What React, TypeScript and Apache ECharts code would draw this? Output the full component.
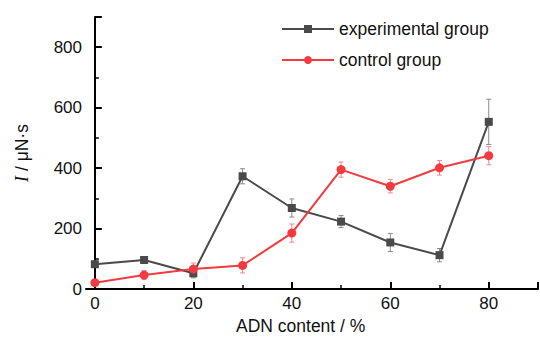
import React, { useEffect, useRef } from "react";
import * as echarts from "echarts";

const adnContent = [0, 10, 20, 30, 40, 50, 60, 70, 80];
const experimental = [82, 96, 52, 373, 268, 223, 154, 112, 553];
const experimentalErr = [10, 8, 15, 25, 30, 20, 30, 22, 75];
const control = [21, 46, 66, 78, 185, 395, 340, 401, 441];
const controlErr = [8, 15, 20, 25, 30, 25, 22, 24, 30];
const xTickLabels = [0, 20, 40, 60, 80];
const xMajorTicks = [0, 20, 40, 60, 80, 90];
const xMinorTicks = [10, 30, 50, 70];
const yTickLabels = [0, 200, 400, 600, 800];
const yMajorTicks = [0, 200, 400, 600, 800, 900];
const yMinorTicks = [100, 300, 500, 700];

const FONT = "Liberation Sans, Arial, Helvetica, sans-serif";

function errorSeries(name: string, vals: number[], errs: number[], color: string) {
  return {
    type: "custom",
    name: name + " err",
    xAxisIndex: 0,
    yAxisIndex: 0,
    z: 1,
    silent: true,
    data: adnContent.map((x, i) => [x, vals[i] - errs[i], vals[i] + errs[i]]),
    renderItem: (params: any, api: any) => {
      const lo = api.coord([api.value(0), api.value(1)]);
      const hi = api.coord([api.value(0), api.value(2)]);
      const cap = 2.5;
      const style = { stroke: color, lineWidth: 1 };
      return {
        type: "group",
        children: [
          { type: "line", shape: { x1: lo[0], y1: lo[1], x2: hi[0], y2: hi[1] }, style },
          { type: "line", shape: { x1: lo[0] - cap, y1: lo[1], x2: lo[0] + cap, y2: lo[1] }, style },
          { type: "line", shape: { x1: hi[0] - cap, y1: hi[1], x2: hi[0] + cap, y2: hi[1] }, style },
        ],
      };
    },
  };
}

export default function App() {
  const ref = useRef<HTMLDivElement>(null);
  useEffect(() => {
    if (!ref.current) return;
    const chart = echarts.init(ref.current, null, { renderer: "svg" });
    const axisLine = { show: true, lineStyle: { color: "#000", width: 2 } };
    const labelStyle = { fontFamily: FONT, fontSize: 17, color: "#111" };
    chart.setOption({
      animation: false,
      backgroundColor: "#fff",
      grid: { left: 86, right: 2, top: 17, bottom: 51, containLabel: false },
      legend: {
        left: 276,
        top: 15,
        orient: "vertical",
        itemWidth: 52,
        itemHeight: 10,
        itemGap: 13,
        data: ["experimental group", "control group"],
        textStyle: { fontFamily: FONT, fontSize: 17.5, color: "#111", padding: [0, 0, 0, 0] },
      },
      xAxis: [
        {
          type: "value",
          min: -1.8,
          max: 90,
          position: "bottom",
          axisLine,
          splitLine: { show: false },
          axisTick: { show: true, inside: true, length: 7, lineStyle: { color: "#000", width: 2 }, customValues: xMajorTicks },
          axisLabel: { ...labelStyle, margin: 6, customValues: xTickLabels },
        },
        {
          type: "value",
          min: -1.8,
          max: 90,
          position: "bottom",
          axisLine: { show: false },
          splitLine: { show: false },
          axisTick: { show: true, inside: true, length: 4, lineStyle: { color: "#000", width: 1.5 }, customValues: xMinorTicks },
          axisLabel: { show: false, customValues: xMinorTicks },
        },
      ],
      yAxis: [
        {
          type: "value",
          min: 0,
          max: 900,
          position: "left",
          axisLine,
          splitLine: { show: false },
          axisTick: { show: true, inside: true, length: 7, lineStyle: { color: "#000", width: 2 }, customValues: yMajorTicks },
          axisLabel: { ...labelStyle, margin: 4, customValues: yTickLabels },
          name: "{i|I} / μN·s",
          nameLocation: "middle",
          nameGap: 55,
          nameTextStyle: {
            fontFamily: FONT,
            fontSize: 17.5,
            color: "#111",
            rich: {
              i: { fontFamily: "Liberation Serif, Times New Roman, serif", fontStyle: "italic", fontSize: 18, color: "#111" },
            },
          },
        },
        {
          type: "value",
          min: 0,
          max: 900,
          position: "left",
          axisLine: { show: false },
          splitLine: { show: false },
          axisTick: { show: true, inside: true, length: 4, lineStyle: { color: "#000", width: 1.5 }, customValues: yMinorTicks },
          axisLabel: { show: false, customValues: yMinorTicks },
        },
      ],
      graphic: [
        {
          type: "text",
          left: 236,
          top: 317,
          style: { text: "ADN content / %", fontFamily: FONT, fontSize: 17.5, fill: "#111" },
        },
      ],
      series: [
        errorSeries("experimental group", experimental, experimentalErr, "#8a8a8a"),
        errorSeries("control group", control, controlErr, "#f08a8a"),
        {
          name: "experimental group",
          type: "line",
          xAxisIndex: 0,
          yAxisIndex: 0,
          z: 3,
          data: adnContent.map((x, i) => [x, experimental[i]]),
          symbol: "rect",
          symbolSize: 8,
          color: "#4a4a4a",
          itemStyle: { color: "#4a4a4a" },
          lineStyle: { color: "#4a4a4a", width: 2 },
        },
        {
          name: "control group",
          type: "line",
          xAxisIndex: 0,
          yAxisIndex: 0,
          z: 4,
          data: adnContent.map((x, i) => [x, control[i]]),
          symbol: "circle",
          symbolSize: 9,
          color: "#f23a3f",
          itemStyle: { color: "#f23a3f" },
          lineStyle: { color: "#f23a3f", width: 2 },
        },
      ],
    });
    return () => chart.dispose();
  }, []);
  return <div ref={ref} style={{ width: 540, height: 340, position: "absolute", left: 0, top: 0 }} />;
}
